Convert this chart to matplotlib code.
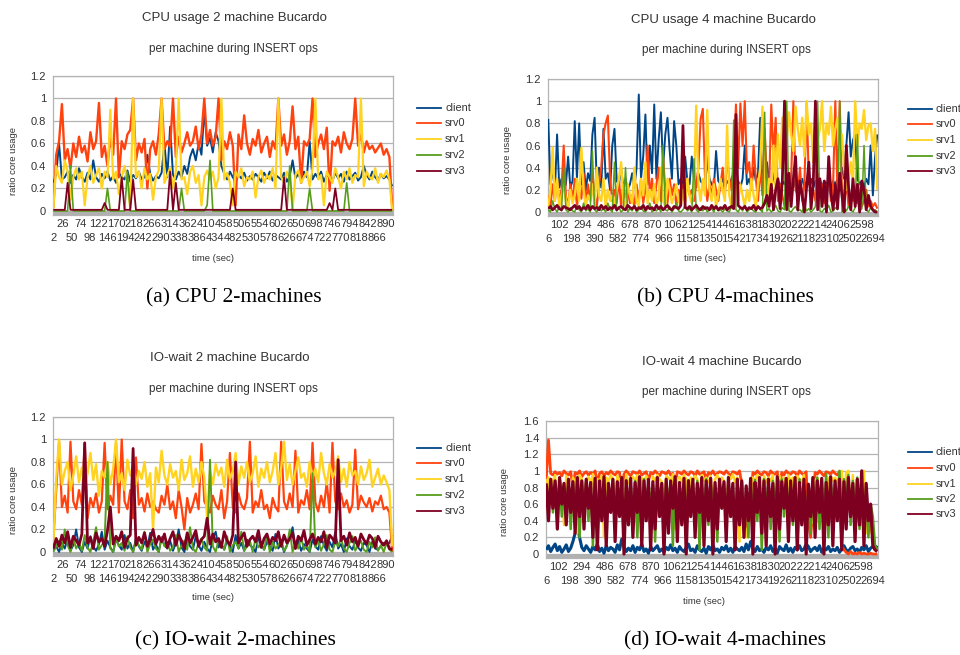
import numpy as np
import matplotlib
matplotlib.use('Agg')
import matplotlib.pyplot as plt

plt.rcParams['font.family'] = ['Liberation Sans', 'DejaVu Sans']

series_names = ['client', 'srv0', 'srv1', 'srv2', 'srv3']
colors = ['#004586', '#ff420e', '#ffd320', '#579d1c', '#7e0021']

# ---------------- (a) CPU usage 2 machine (values in % of a core) ----------------
cpu2_client = [25,33,60,28,30,35,25,32,28,38, 30,26,34,28,45,30,26,33,29,35,
               27,31,25,34,30,28,36,26,32,29, 35,28,30,50,33,27,31,29,34,60,
               30,75,32,28,35,30,40,33,48,55, 45,60,50,90,58,65,52,70,62,40,
               33,28,35,30,26,32,29,34,27,31, 28,33,30,26,34,29,35,27,32,30,
               28,34,26,31,45,29,33,27,35,30, 62,28,33,29,35,26,32,30,27,34,
               29,33,26,35,28,31,34,27,30,40, 32,28,35,30,27,33,29,31,28,22]
cpu2_srv0 = [3,50,62,95,45,55,38,60,48,66, 52,58,44,70,55,62,96,48,58,40,
             65,50,100,30,62,55,68,72,100,45, 60,52,64,20,55,62,50,68,100,55,
             62,57,100,48,66,52,60,70,58,62, 75,55,68,100,60,72,58,66,100,45,
             62,55,70,58,5,68,55,85,60,50, 64,58,72,52,60,66,48,62,55,100,
             58,68,50,62,93,55,66,25,62,58, 64,100,48,60,68,55,74,18,62,58,
             66,52,70,60,55,64,100,58,68,52, 62,55,58,52,56,60,50,55,48,2]
cpu2_srv1 = [2,40,30,25,45,35,10,30,38,28, 35,5,30,40,25,32,38,20,35,30,
             90,28,35,15,30,40,25,2,100,30, 35,20,38,28,33,10,30,36,100,25,
             32,38,20,35,100,28,30,15,35,40, 25,32,5,30,36,28,35,20,30,100,
             28,34,25,5,35,30,38,22,30,28, 35,12,30,36,25,32,28,38,20,100,
             30,25,35,28,2,32,36,25,30,35, 22,38,100,28,32,5,35,30,25,38,
             30,20,35,28,38,25,32,30,100,22, 35,30,28,38,25,33,30,36,28,0]
cpu2_srv2 = [0,0,0,0,0,0,40,0,0,0, 0,0,0,0,0,0,0,0,0,20,
             0,0,0,0,0,0,35,0,0,0, 0,0,0,0,0,0,0,0,0,0,
             0,0,0,0,0,20,0,0,0,0, 0,0,0,0,5,45,0,0,0,0,
             0,0,0,0,0,0,0,0,0,0, 0,0,0,0,0,0,0,0,0,0,
             0,0,0,40,0,0,0,0,0,0, 20,0,0,0,0,0,0,0,0,0,
             0,0,0,25,0,0,0,0,0,0, 0,0,0,0,0,0,0,0,0,0]
cpu2_srv3 = [1,1,1,1,1,25,1,1,1,1, 1,1,1,1,1,1,1,1,7,1,
             1,1,1,1,30,1,1,1,28,1, 1,1,1,1,1,1,1,1,1,1,
             1,35,1,25,1,1,1,1,1,1, 1,1,1,1,1,1,1,1,1,1,
             1,1,1,20,1,1,1,1,1,1, 1,1,1,1,1,1,1,1,1,1,
             1,30,1,1,1,1,1,1,1,1, 1,1,1,1,1,1,1,7,1,20,
             1,1,1,1,1,1,1,1,1,1, 1,1,1,1,1,1,1,1,1,1]

# ---------------- (b) CPU usage 4 machine ----------------
cpu4_client = [84,25,40,18,70,22,30,20,25,50, 22,28,82,30,80,25,45,20,35,28,
               70,85,25,40,22,75,30,35,20,60, 75,28,25,40,22,30,20,25,35,22,
               40,106,30,50,88,25,60,35,97,30, 65,90,40,70,85,55,30,82,60,25,
               30,22,50,28,25,50,30,22,35,28, 25,20,50,30,25,22,55,28,25,30,
               22,28,25,30,35,25,28,22,30,60, 25,30,22,40,28,35,85,25,30,45,
               28,20,35,25,30,22,28,25,30,20, 25,30,22,28,25,30,22,28,25,30,
               22,28,25,30,22,28,25,30,22,28, 25,30,22,40,30,60,90,50,65,70,
               30,25,28,22,30,25,60,15,50,70]
cpu4_srv0 = [15,5,25,10,30,8,20,60,15,5, 25,10,30,5,20,12,35,8,25,10,
             35,15,5,25,40,70,80,87,30,10, 20,8,30,5,25,12,20,8,15,5,
             25,10,30,8,20,60,15,30,8,25, 40,10,50,20,8,30,15,25,5,20,
             10,25,8,30,15,20,10,25,40,84, 93,30,10,25,15,30,20,10,25,40,
             15,50,30,20,45,97,40,98,60,100, 35,45,20,60,30,10,40,15,75,30,
             20,97,50,85,10,25,15,5,20,10, 30,100,20,15,40,10,25,98,30,15,
             20,10,35,15,25,8,20,30,10,25, 100,15,100,20,10,25,5,15,10,20,
             8,15,5,10,20,5,10,5,8,3]
cpu4_srv1 = [5,20,58,10,30,5,15,25,10,5, 20,8,15,30,10,58,20,5,15,10,
             25,5,40,15,10,30,5,20,10,15, 5,20,30,45,10,5,25,15,8,40,
             10,5,30,15,45,8,20,10,25,5, 15,40,10,5,30,20,8,15,25,10,
             5,20,10,30,15,8,20,96,25,10, 30,15,92,20,10,25,5,15,30,20,
             10,78,15,5,20,30,10,25,15,5, 20,10,30,15,5,25,40,95,20,10,
             30,15,60,20,70,40,85,80,65,90, 70,55,95,75,60,85,50,100,70,80,
             45,90,65,75,100,55,80,70,95,60, 75,85,50,70,40,20,30,45,25,100,
             60,80,75,92,65,78,80,55,75,20]
cpu4_srv2 = [2,0,10,3,0,5,1,40,2,0, 4,1,0,6,2,0,8,1,3,0,
             55,2,0,5,1,3,0,8,2,0, 45,1,4,0,2,40,0,3,1,6,
             0,2,5,1,0,3,8,0,2,1, 4,0,60,2,1,5,0,3,8,1,
             0,2,6,1,3,0,48,2,0,4, 1,5,0,2,3,0,6,1,2,0,
             3,1,0,5,83,2,0,4,1,6, 0,2,3,1,0,5,2,0,90,1,
             3,0,2,6,1,0,4,2,100,1, 0,3,5,1,2,0,6,1,3,0,
             2,5,100,1,0,3,2,6,0,1, 4,2,100,0,3,1,5,2,0,4,
             70,1,3,60,2,0,4,1,2,0]
cpu4_srv3 = [3,5,2,4,6,3,2,5,4,3, 2,4,6,3,5,2,4,3,6,2,
             5,3,4,2,6,3,5,2,4,3, 6,2,4,5,3,2,6,4,3,5,
             2,4,3,6,2,5,3,4,2,6, 3,5,2,4,6,3,2,5,4,3,
             6,78,4,3,5,2,4,6,3,2, 5,3,4,2,6,3,5,2,4,3,
             6,2,4,5,3,88,6,4,3,5, 2,4,3,6,2,5,3,4,8,15,
             5,25,2,20,30,3,28,100,2,35, 5,30,50,2,28,15,0,22,45,3,
             25,100,2,30,5,28,0,50,18,2, 25,3,35,15,0,60,22,2,30,5,
             25,0,28,20,2,15,5,2,0,0]

# ---------------- (c) IO-wait 2 machine ----------------
io2_client = [2,5,0,8,3,12,1,6,20,4, 0,9,3,14,5,1,7,18,2,10,
              4,0,11,6,2,15,3,8,0,12, 5,1,9,4,17,2,7,0,13,6,
              3,10,1,8,20,4,0,11,5,2, 14,6,1,9,3,0,12,18,4,7,
              2,10,5,0,15,3,8,1,11,6, 4,0,13,7,2,9,5,1,16,3,
              8,0,6,12,22,4,10,1,7,3, 0,11,5,2,14,6,1,9,4,18,
              3,7,0,12,5,2,10,4,1,8, 6,0,9,3,2,5,8,7,8,15]
io2_srv0 = [12,55,98,40,50,35,98,45,38,55, 42,97,30,48,40,52,35,45,97,38,
            50,42,97,35,100,45,38,55,30,84, 42,48,36,52,40,45,38,35,50,42,
            60,38,45,30,55,40,20,48,35,42, 52,38,96,45,40,35,50,42,38,55,
            30,45,88,40,35,52,42,38,48,98, 35,45,40,55,38,42,30,48,40,36,
            98,45,38,52,40,90,35,46,42,55, 38,97,44,36,50,40,62,35,97,45,
            38,52,40,46,35,42,91,38,50,44, 40,48,36,45,42,50,38,40,35,0]
io2_srv1 = [8,65,100,60,72,80,55,68,85,62, 75,58,70,88,64,78,50,72,66,80,
            60,74,100,62,70,55,82,68,75,60, 72,65,80,58,70,20,75,62,90,68,
            60,78,66,72,55,82,64,70,85,58, 74,62,80,66,30,72,60,78,68,75,
            58,82,65,72,88,60,76,66,80,62, 70,85,58,74,66,80,62,72,88,60,
            75,98,64,78,60,72,84,66,70,58, 80,65,74,62,88,70,60,78,66,72,
            85,62,74,58,80,68,72,60,76,64, 70,82,58,66,74,60,68,62,55,5]
io2_srv2 = [0,5,10,2,20,6,0,12,3,8, 1,15,4,0,9,22,2,6,10,80,
            3,0,12,5,8,1,14,4,0,10, 6,2,18,0,7,11,3,0,13,5,
            9,1,4,15,0,6,10,2,22,3, 0,8,12,4,1,82,5,0,11,7,
            2,14,0,6,9,3,18,1,5,10, 0,12,4,7,2,15,0,9,3,6,
            11,1,5,20,0,8,3,13,2,6, 0,70,4,10,1,7,15,2,0,9,
            5,12,3,0,8,14,1,6,10,2, 0,9,4,13,1,6,0,8,2,0]
io2_srv3 = [3,12,5,15,8,18,4,14,10,6, 16,97,8,13,3,17,9,12,5,19,
            40,7,14,10,18,4,12,15,92,6, 13,8,17,5,11,20,7,14,9,16,
            4,12,18,6,15,10,3,17,8,13, 19,5,11,14,30,7,16,9,12,4,
            18,10,6,15,80,8,13,17,5,11, 14,9,19,4,12,16,7,13,10,18,
            5,15,8,12,17,3,14,10,19,6, 11,16,7,13,9,18,4,15,12,8,
            82,10,14,6,17,9,13,5,16,11, 7,15,12,4,14,9,6,10,3,2]

# ---------------- (d) IO-wait 4 machine ----------------
io4_client = [5,10,3,8,12,4,9,2,6,11, 3,7,15,25,35,20,8,4,10,6,
              2,9,5,12,3,7,1,10,4,8, 6,2,11,5,18,9,3,7,4,10,
              2,8,5,12,3,6,1,9,4,7, 10,3,6,2,8,5,11,4,7,2,
              9,5,3,8,12,4,6,2,10,5, 3,7,1,9,5,11,4,6,2,8,
              5,10,3,7,2,9,6,4,8,3, 12,5,15,7,3,9,4,6,2,8,
              5,10,3,7,1,9,6,4,11,3, 7,2,8,5,10,4,6,12,9,3,
              6,8,4,10,2,7,5,9,3,6, 4,8,2,6,10,5,3,7,9,4,
              6,2,8,5,10,3,7,9,6,10]
io4_srv0 = [90,137,97,95,99,96,98,94,100,97, 95,99,80,98,96,100,93,97,99,95,
            98,96,100,85,97,99,94,98,96,100, 97,95,99,98,75,96,100,97,94,99,
            98,96,100,95,97,99,88,98,96,100, 97,94,99,98,96,100,95,97,82,99,
            98,96,100,97,95,99,98,94,100,96, 97,99,90,98,96,100,95,97,99,98,
            96,100,97,94,99,98,96,100,85,40, 30,60,45,98,96,100,97,95,99,98,
            94,100,97,96,99,78,98,95,100,97, 96,99,98,94,100,97,95,99,40,20,
            55,98,96,100,97,94,99,98,96,100, 97,95,99,10,5,2,0,3,0,1,
            0,2,0,1,0,0,1,0,0,0]
io4_srv1 = [85,92,60,88,95,30,90,82,35,94, 88,40,92,86,25,95,90,70,88,93,
            85,96,50,90,88,94,20,92,87,95, 90,60,94,88,92,15,96,85,90,93,
            88,95,40,92,86,94,90,25,93,88, 95,90,87,55,94,92,88,96,30,90,
            93,86,95,90,45,92,88,94,90,20, 95,88,92,86,94,60,90,95,87,92,
            88,35,94,90,96,86,92,15,88,40, 20,35,50,92,88,95,90,40,94,86,
            92,88,95,30,90,94,86,92,55,95, 88,92,45,94,90,86,95,25,50,35,
            40,88,92,60,45,55,35,90,94,88, 92,86,95,100,60,98,100,45,95,30,
            85,50,35,100,25,40,30,20,8,5]
io4_srv2 = [80,55,88,50,85,60,90,45,82,58, 87,30,85,55,90,20,84,60,88,40,
            86,10,90,50,83,65,88,25,85,55, 90,35,86,60,82,5,89,50,85,45,
            88,20,84,55,90,40,86,60,83,15, 89,50,85,30,88,65,82,10,90,45,
            86,55,84,20,89,60,85,40,88,5, 83,50,90,35,86,60,82,15,88,55,
            85,30,90,45,84,10,88,60,86,35, 80,20,85,50,89,40,84,5,90,55,
            86,30,88,60,83,15,90,45,85,50, 88,35,84,10,90,55,86,40,80,25,
            85,60,92,30,88,45,96,20,90,55, 86,40,100,15,90,60,95,35,88,50,
            92,30,85,45,80,20,60,45,10,5]
io4_srv3 = [85,40,90,55,88,30,92,60,85,35, 90,50,87,25,92,45,88,30,90,55,
            86,20,91,5,88,40,93,10,85,50, 90,15,87,45,92,0,88,35,91,20,
            86,50,93,10,88,40,90,5,87,30, 92,45,85,0,90,25,88,55,93,15,
            86,35,91,0,88,45,90,20,85,50, 92,10,88,40,91,0,86,30,90,55,
            87,15,92,45,85,5,90,35,88,20, 82,40,91,0,86,50,92,25,88,10,
            90,45,85,0,93,30,87,55,91,15, 88,40,92,5,86,35,90,0,84,45,
            92,20,88,50,91,0,86,35,93,10, 88,40,90,5,87,30,92,45,85,15,
            90,35,100,10,85,40,60,10,5,3]

xt_2machine = list(range(2, 891, 24))
xt_4machine = list(range(6, 2695, 96))

W, H = 960, 655
fig = plt.figure(figsize=(W / 100, H / 100), dpi=100)


def add_ax(l, r, t, b):
    return fig.add_axes([l / W, 1 - b / H, (r - l) / W, (b - t) / H])


def ftext(x, y, s, **kw):
    kw.setdefault('ha', 'center')
    kw.setdefault('va', 'center')
    fig.text(x / W, 1 - y / H, s, **kw)


panels = [
    dict(box=(53, 393, 76, 215), data=[cpu2_client, cpu2_srv0, cpu2_srv1, cpu2_srv2, cpu2_srv3],
         t=(2, 908), xlim=(1, 910), ymax=1.2, band=-0.036, xt=xt_2machine,
         lws=[1.4, 1.7, 1.6, 1.2, 1.3],
         title='CPU usage 2 machine Bucardo', title_xy=(234, 18), sub_xy=(233, 49),
         xl_xy=(213, 258), yl_xy=(14, 161), leg=(417, [108, 123, 139, 155, 171]),
         cap='(a) CPU 2-machines', cap_xy=(234, 298)),
    dict(box=(548, 878, 79, 216), data=[cpu4_client, cpu4_srv0, cpu4_srv1, cpu4_srv2, cpu4_srv3],
         t=(6, 2730), xlim=(4, 2736), ymax=1.2, band=-0.036, xt=xt_4machine,
         lws=[1.4, 1.5, 1.7, 1.1, 2.0],
         title='CPU usage 4 machine Bucardo', title_xy=(723, 20), sub_xy=(726, 50),
         xl_xy=(705, 259), yl_xy=(508, 160), leg=(908, [109, 124, 140, 156, 171]),
         cap='(b) CPU 4-machines', cap_xy=(725, 298)),
    dict(box=(53, 393, 417, 556), data=[io2_client, io2_srv0, io2_srv1, io2_srv2, io2_srv3],
         t=(2, 908), xlim=(1, 910), ymax=1.2, band=-0.036, xt=xt_2machine,
         lws=[1.4, 1.6, 1.7, 1.4, 2.0],
         title='IO-wait 2 machine Bucardo', title_xy=(230, 358), sub_xy=(233, 389),
         xl_xy=(213, 598), yl_xy=(14, 500), leg=(417, [448, 463, 479, 495, 511]),
         cap='(c) IO-wait 2-machines', cap_xy=(235, 641)),
    dict(box=(546, 878, 421, 558), data=[io4_client, io4_srv0, io4_srv1, io4_srv2, io4_srv3],
         t=(6, 2730), xlim=(4, 2736), ymax=1.6, band=-0.048, xt=xt_4machine,
         lws=[2.2, 2.0, 1.8, 1.8, 2.3],
         title='IO-wait 4 machine Bucardo', title_xy=(722, 362), sub_xy=(726, 392),
         xl_xy=(704, 601), yl_xy=(505, 502), leg=(908, [452, 468, 484, 499, 514]),
         cap='(d) IO-wait 4-machines', cap_xy=(725, 641)),
]

grid_c = '#b3b3b3'
txt_c = '#333333'

for p in panels:
    ax = add_ax(*p['box'])
    n = len(p['data'][0])
    tt = np.linspace(p['t'][0], p['t'][1], n)
    for vals, c, lw in zip(p['data'], colors, p['lws']):
        ax.plot(tt, np.array(vals) / 100.0, color=c, lw=lw, zorder=3,
                solid_joinstyle='round', solid_capstyle='butt')
    ax.set_xlim(*p['xlim'])
    ax.set_ylim(p['band'], p['ymax'])
    ax.axhspan(p['band'], 0, color='#b0b0b0', zorder=1, lw=0)
    yt = np.round(np.arange(0, p['ymax'] + 0.01, 0.2), 1)
    ax.set_yticks(yt)
    ax.set_yticklabels([('%g' % v) for v in yt], fontsize=8, color=txt_c)
    ax.yaxis.grid(True, color=grid_c, lw=0.9, zorder=0)
    ax.set_axisbelow(True)
    xt = p['xt']
    upper = xt[1::2]
    lower = xt[0::2]
    ax.set_xticks(upper)
    ax.set_xticklabels([str(v) for v in upper], fontsize=8, color=txt_c)
    ax.set_xticks(lower, minor=True)
    ax.set_xticklabels([str(v) for v in lower], minor=True, fontsize=8, color=txt_c)
    ax.tick_params(axis='x', which='major', length=0, pad=3)
    ax.tick_params(axis='x', which='minor', length=0, pad=13)
    ax.tick_params(axis='y', length=0, pad=5)
    for s in ax.spines.values():
        s.set_color(grid_c)
        s.set_linewidth(0.9)
    ftext(*p['title_xy'], p['title'], fontsize=9.5, color=txt_c)
    ftext(*p['sub_xy'], 'per machine during INSERT ops', fontsize=8.5, color=txt_c)
    ftext(*p['xl_xy'], 'time (sec)', fontsize=6.8, color=txt_c)
    ftext(*p['yl_xy'], 'ratio core usage', fontsize=6.8, color=txt_c, rotation=90)
    ftext(*p['cap_xy'], p['cap'], fontsize=15.5, color='black', family='Liberation Serif')
    lx, lys = p['leg']
    for name, c, ly in zip(series_names, colors, lys):
        fig.add_artist(plt.Line2D([lx / W, (lx + 24) / W], [1 - ly / H, 1 - ly / H],
                                  color=c, lw=1.3, transform=fig.transFigure))
        ftext(lx + 28, ly, name, fontsize=7.8, color=txt_c, ha='left')

fig.savefig('out.png', dpi=100)
